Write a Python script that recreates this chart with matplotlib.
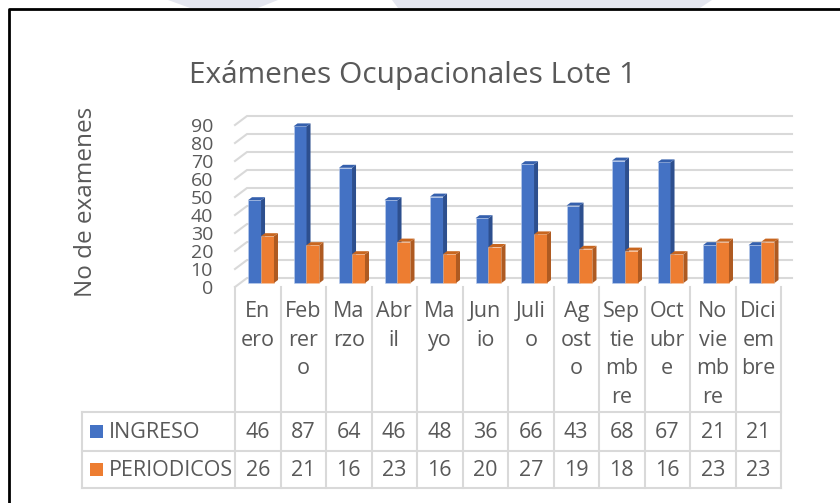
import matplotlib
matplotlib.use("Agg")
import matplotlib.pyplot as plt
from matplotlib.patches import Polygon, Rectangle

plt.rcParams['font.family'] = ['Open Sans', 'DejaVu Sans']

# datos del grafico
meses = ["En\nero", "Feb\nrer\no", "Ma\nrzo", "Abr\nil", "Ma\nyo", "Jun\nio",
         "Juli\no", "Ag\nost\no", "Sep\ntie\nmb\nre", "Oct\nubr\ne",
         "No\nvie\nmb\nre", "Dici\nem\nbre"]
ingreso = [46, 87, 64, 46, 48, 36, 66, 43, 68, 67, 21, 21]
periodicos = [26, 21, 16, 23, 16, 20, 27, 19, 18, 16, 23, 23]
series = ["INGRESO", "PERIODICOS"]
ticks = list(range(0, 100, 10))

gris = "#595959"
linea = "#D9D9D9"
azul, azul_lado, azul_top = "#4472C4", "#2D4F8E", "#3560AD"
naranja, naranja_lado, naranja_top = "#ED7D31", "#AE5A21", "#C8661F"

W, H = 840, 503
fig = plt.figure(figsize=(W / 100, H / 100), dpi=100)

# overlay in pixels for frame, table and text
ov = fig.add_axes([0, 0, 1, 1])
ov.set_xlim(0, W)
ov.set_ylim(H, 0)
ov.axis("off")

# faint watermark on top strip
ov.add_patch(Polygon([(168, 0), (278, 0), (258, 8), (190, 8)], closed=True,
                     color="#E4E6EF", lw=0, zorder=0))
ov.add_patch(Polygon([(392, 0), (712, 0), (700, 8), (398, 8)], closed=True,
                     color="#E4E6EF", lw=0, zorder=0))
ov.plot([9, 9, W], [H, 9, 9], color="black", lw=2, solid_capstyle="butt")

# main plotting area: x in categories, y in values
left, right = 235, 781
base = 283          # pixel row of value 0 on the bar plane
ppu = 1.8           # pixels per unit
top_px, bot_px = 100, 295
ax = fig.add_axes([left / W, 1 - bot_px / H, (right - left) / W, (bot_px - top_px) / H])
ax.set_xlim(0, 12)
ax.set_ylim(-(bot_px - base) / ppu, (base - top_px) / ppu)
ax.axis("off")
sx = 12 / (right - left)
sy = 1 / ppu

# back wall gridlines and left wall slants
back_dx, back_dy, front_dy = 12 * sx, 5 * sy, -4 * sy
for v in ticks:
    ax.plot([0, back_dx, (792 - left) * sx], [v + front_dy, v + back_dy, v + back_dy],
            color=linea, lw=1.5, clip_on=False, zorder=1)
    ax.text((213 - left) * sx, v + front_dy - 1.5 * sy, str(v), ha="right", va="center",
            fontsize=14, color=gris, clip_on=False)

# 3d-ish bars
w = 0.286
dx, dy = 4 * sx, 3 * sy
x = list(range(12))
for vals, off, c_f, c_s, c_t, z in [(ingreso, 0.286, azul, azul_lado, azul_top, 2),
                                     (periodicos, 0.571, naranja, naranja_lado, naranja_top, 3)]:
    ax.bar([i + off for i in x], vals, width=w, align="edge", color=c_f,
           edgecolor="#BFD0EE" if c_f == azul else "#F6C6A4", lw=0.4, zorder=z)
    for i, v in zip(x, vals):
        x0, x1 = i + off, i + off + w
        ax.add_patch(Polygon([(x1, 0), (x1 + dx, dy), (x1 + dx, v + dy), (x1, v)],
                             closed=True, color=c_s, lw=0, zorder=z))
        ax.add_patch(Polygon([(x0, v), (x1, v), (x1 + dx, v + dy), (x0 + dx, v + dy)],
                             closed=True, color=c_t, lw=0, zorder=z))

# data table
colw = (right - left) / 12
tab_l, hdr_top, r1, r2, r3 = 82, 287, 412, 451, 488
for i in range(13):
    ov.plot([left + i * colw] * 2, [hdr_top, r3], color=linea, lw=1.5)
ov.plot([tab_l, tab_l], [r1, r3], color=linea, lw=1.5)
for yy in (r1, r2, r3):
    ov.plot([tab_l, right], [yy, yy], color=linea, lw=1.5)

for i, m in enumerate(meses):
    cx = left + (i + 0.5) * colw
    ov.text(cx, 301, m, ha="center", va="top", fontsize=15.5, color=gris, linespacing=1.48)
    ov.text(cx, (r1 + r2) / 2 + 1, str(ingreso[i]), ha="center", va="center", fontsize=15.5, color=gris)
    ov.text(cx, (r2 + r3) / 2 + 1.5, str(periodicos[i]), ha="center", va="center", fontsize=15.5, color=gris)

for (y0, y1), nombre, col in zip([(r1, r2), (r2, r3)], series, [azul, naranja]):
    yc = (y0 + y1) / 2
    ov.add_patch(Rectangle((90, yc - 6.5), 13, 13, color=col, lw=0))
    ov.text(109, yc + 1, nombre, ha="left", va="center", fontsize=15.5, color=gris)

ov.text(86, 202, "No de examenes", rotation=90, ha="center", va="center",
        fontsize=17.5, color=gris)
ov.text(413, 75, "Exámenes Ocupacionales Lote 1", ha="center", va="center",
        fontsize=21.5, color=gris)

fig.savefig("out.png", dpi=100)
